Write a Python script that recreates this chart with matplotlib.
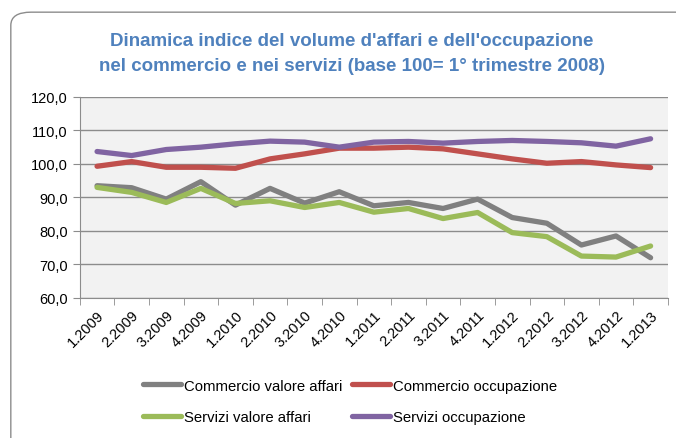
import matplotlib.pyplot as plt
from matplotlib.patches import FancyBboxPatch

plt.rcParams['font.family'] = ['Liberation Sans', 'DejaVu Sans']

trimestri = ['1.2009', '2.2009', '3.2009', '4.2009', '1.2010', '2.2010', '3.2010', '4.2010',
             '1.2011', '2.2011', '3.2011', '4.2011', '1.2012', '2.2012', '3.2012', '4.2012', '1.2013']

comm_affari = [93.5, 92.9, 89.5, 94.7, 87.7, 92.7, 88.3, 91.7, 87.5, 88.5, 86.7, 89.5,
               84.0, 82.3, 75.8, 78.5, 72.0]
comm_occup = [99.3, 100.7, 99.0, 99.0, 98.7, 101.5, 103.0, 104.7, 104.7, 105.0, 104.5, 103.0,
              101.5, 100.2, 100.7, 99.7, 98.9]
serv_affari = [93.0, 91.5, 88.5, 92.7, 88.2, 89.0, 87.0, 88.5, 85.6, 86.7, 83.7, 85.5,
               79.5, 78.3, 72.5, 72.2, 75.5]
serv_occup = [103.7, 102.5, 104.3, 105.0, 106.0, 106.8, 106.5, 105.0, 106.5, 106.7, 106.2, 106.7,
              107.0, 106.7, 106.3, 105.3, 107.5]

fig = plt.figure(figsize=(6.76, 4.39), dpi=100)

# rounded outer frame, behind everything
frame = FancyBboxPatch((0.016, -0.05), 1.2, 1.02, boxstyle="round,pad=0,rounding_size=0.03",
                       transform=fig.transFigure, facecolor='white', edgecolor='#8c8c8c',
                       linewidth=1.0, zorder=-10)
fig.patches.append(frame)

ax = fig.add_axes([0.118, 0.319, 0.870, 0.458])
ax.set_zorder(1)
ax.set_facecolor('#F2F2F2')

x = list(range(len(trimestri)))
lw = 3.8
l1, = ax.plot(x, comm_affari, color='#808080', lw=lw, solid_capstyle='round', label='Commercio valore affari')
l2, = ax.plot(x, comm_occup, color='#C0504D', lw=lw, solid_capstyle='round', label='Commercio occupazione')
l3, = ax.plot(x, serv_affari, color='#9BBB59', lw=lw, solid_capstyle='round', label='Servizi valore affari')
l4, = ax.plot(x, serv_occup, color='#8064A2', lw=lw, solid_capstyle='round', label='Servizi occupazione')

ax.set_ylim(60, 120)
ax.set_xlim(-0.5, len(trimestri) - 0.5)
ax.set_yticks(range(60, 121, 10))
ax.set_yticklabels([f'{v},0' for v in range(60, 121, 10)], fontsize=10.5)
ax.yaxis.grid(True, color='#8c8c8c', lw=1.0)
ax.set_axisbelow(True)

ax.set_xticks(x)
ax.set_xticklabels(trimestri, rotation=45, ha='right', rotation_mode='anchor', fontsize=10.5)
ax.set_xticks([i - 0.5 for i in range(len(trimestri) + 1)], minor=True)
ax.tick_params(axis='x', which='major', length=0, pad=7)
ax.tick_params(axis='x', which='minor', length=5, color='#8c8c8c')
ax.tick_params(axis='y', length=5, color='#8c8c8c')

for s in ['top', 'right']:
    ax.spines[s].set_visible(False)
for s in ['left', 'bottom']:
    ax.spines[s].set_color('#8c8c8c')

fig.text(0.52, 0.905, "Dinamica indice del volume d'affari e dell'occupazione",
         ha='center', va='center', fontsize=13.5, fontweight='bold', color='#4F81BD')
fig.text(0.52, 0.848, "nel commercio e nei servizi (base 100= 1° trimestre 2008)",
         ha='center', va='center', fontsize=13.5, fontweight='bold', color='#4F81BD')

# legend filled row by row, like the original
fig.legend([l1, l3, l2, l4], [l1.get_label(), l3.get_label(), l2.get_label(), l4.get_label()],
           ncol=2, loc='center', bbox_to_anchor=(0.518, 0.083),
           frameon=False, fontsize=10.7, handlelength=2.6, handletextpad=0.2,
           columnspacing=0.6, labelspacing=1.2)

fig.savefig('out.png', dpi=100)
